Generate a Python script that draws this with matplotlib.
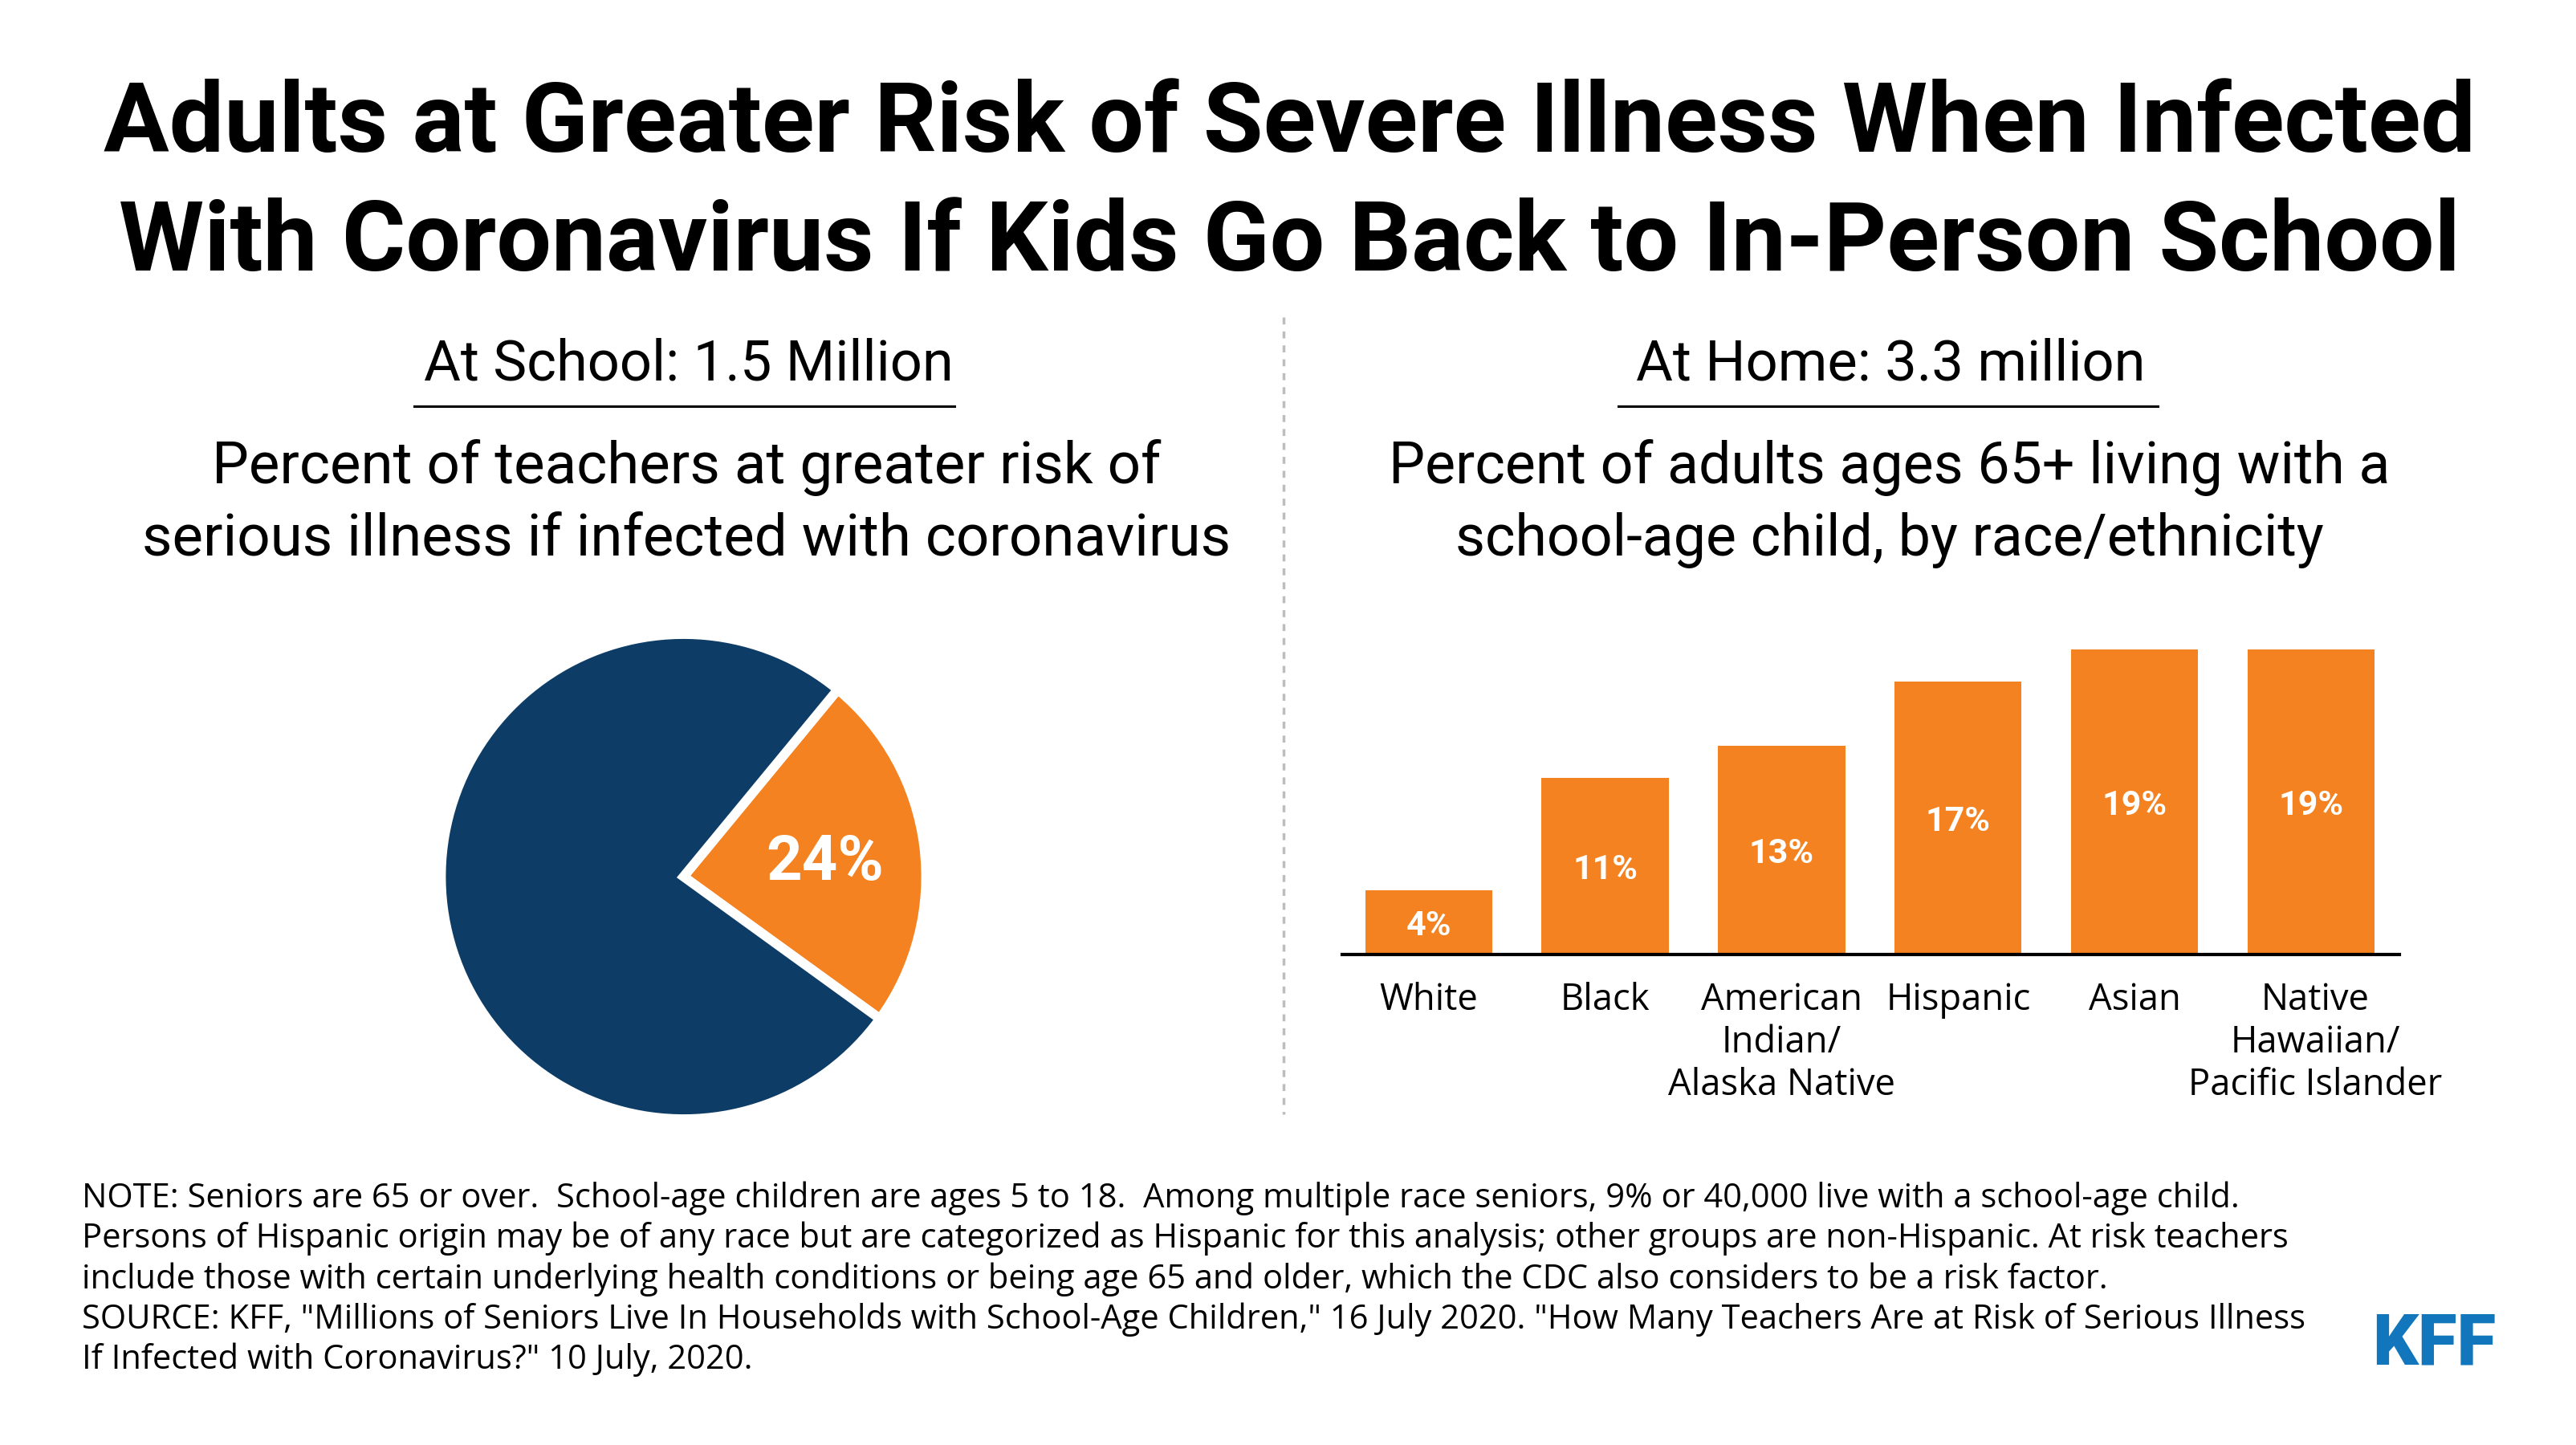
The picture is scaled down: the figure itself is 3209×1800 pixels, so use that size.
import matplotlib
matplotlib.use('Agg')
import matplotlib.pyplot as plt
from matplotlib.transforms import ScaledTranslation
import numpy as np

W, H = 3209, 1800

title_lines = ['Adults at Greater Risk of Severe Illness When Infected',
               'With Coronavirus If Kids Go Back to In-Person School']
left_head = 'At School: 1.5 Million'
right_head = 'At Home: 3.3 million'
left_sub = ['Percent of teachers at greater risk of',
            'serious illness if infected with coronavirus']
right_sub = ['Percent of adults ages 65+ living with a',
             'school-age child, by race/ethnicity']
pie_values = [24, 76]
pie_labels = ['24%']
categories = ['White', 'Black', 'American\nIndian/\nAlaska Native', 'Hispanic',
              'Asian', 'Native\nHawaiian/\nPacific Islander']
bar_values = [4, 11, 13, 17, 19, 19]
notes = ['NOTE: Seniors are 65 or over.  School-age children are ages 5 to 18.  Among multiple race seniors, 9% or 40,000 live with a school-age child.',
         'Persons of Hispanic origin may be of any race but are categorized as Hispanic for this analysis; other groups are non-Hispanic. At risk teachers',
         'include those with certain underlying health conditions or being age 65 and older, which the CDC also considers to be a risk factor.',
         'SOURCE: KFF, "Millions of Seniors Live In Households with School-Age Children," 16 July 2020. "How Many Teachers Are at Risk of Serious Illness',
         'If Infected with Coronavirus?" 10 July, 2020.']

ORANGE = '#F58220'
NAVY = '#0D3C66'
BLUE = '#1276BC'


def px(x, y):
    return x / W, 1 - y / H


def box(x0, y0, x1, y1):
    return [x0 / W, 1 - y1 / H, (x1 - x0) / W, (y1 - y0) / H]


fig = plt.figure(figsize=(W / 100, H / 100), dpi=100, facecolor='white')


def put(x, y, s, size, font='Open Sans', weight='normal', ha='center', color='black', **kw):
    return fig.text(*px(x, y), s, fontsize=size, family=font, weight=weight,
                    ha=ha, va='baseline', color=color, **kw)


# title
put(1606, 189, title_lines[0], 87.4, font='Roboto', weight='bold')
put(1606, 337, title_lines[1], 87.4, font='Roboto', weight='bold')

# headings
put(858, 474, left_head, 50.7, font='Roboto')
put(2355, 474, right_head, 50.7, font='Roboto')
fig.add_artist(plt.Line2D([516 / W, 1189 / W], [1 - 506 / H] * 2, color='black', lw=2.2))
fig.add_artist(plt.Line2D([2016 / W, 2688 / W], [1 - 506 / H] * 2, color='black', lw=2.2))

put(855, 602, left_sub[0], 52.4, font='Roboto')
put(855, 692, left_sub[1], 52.4, font='Roboto')
put(2354, 602, right_sub[0], 51.6, font='Roboto')
put(2354, 692, right_sub[1], 51.6, font='Roboto')

# divider
fig.add_artist(plt.Line2D([1599 / W] * 2, [1 - 395 / H, 1 - 1388 / H], color='#BDBDBD', lw=2.5,
                          linestyle=(0, (2.5, 2.5))))

# pie
cx, cy, r = 851.5, 1092, 302
ax_pie = fig.add_axes(box(cx - r, cy - r, cx + r, cy + r))
ax_pie.pie(pie_values, colors=[ORANGE, NAVY], startangle=50.5, counterclock=False,
           radius=1, wedgeprops={'edgecolor': 'white', 'linewidth': 8.5})
ax_pie.set_xlim(-1, 1)
ax_pie.set_ylim(-1, 1)
ax_pie.text(0.584, 0.084, pie_labels[0], color='white', fontsize=56, family='Roboto',
            weight='bold', ha='center', va='center_baseline')

# bars
ax = fig.add_axes(box(1672, 808.6, 2989, 1189))
x = np.arange(len(categories))
ax.bar(x, bar_values, width=0.72, color=ORANGE)
ax.set_xlim(-0.49, 5.5)
ax.set_ylim(0, 19)
ax.set_yticks([])
for s in ['top', 'left', 'right']:
    ax.spines[s].set_visible(False)
ax.spines['bottom'].set_linewidth(3)
ax.set_xticks(x)
ax.set_xticklabels(categories, fontsize=32.7, family='Open Sans', linespacing=1.2)
ax.tick_params(axis='x', length=0, pad=24.5)
last = ax.get_xticklabels()[-1]
last.set_transform(last.get_transform() + ScaledTranslation(0.05, 0, fig.dpi_scale_trans))
for i, v in zip(x, bar_values):
    ax.text(i, v / 2, f'{v}%', color='white', fontsize=31, family='Roboto', weight='bold',
            ha='center', va='center_baseline')

# notes
for i, line in enumerate(notes):
    put(102, 1504 + i * 50.3, line, 30, ha='left')

# logo
put(2955, 1699, 'KFF', 64, font='Roboto', weight='black', ha='left', color=BLUE)

fig.savefig('out.png', dpi=100, facecolor='white')
